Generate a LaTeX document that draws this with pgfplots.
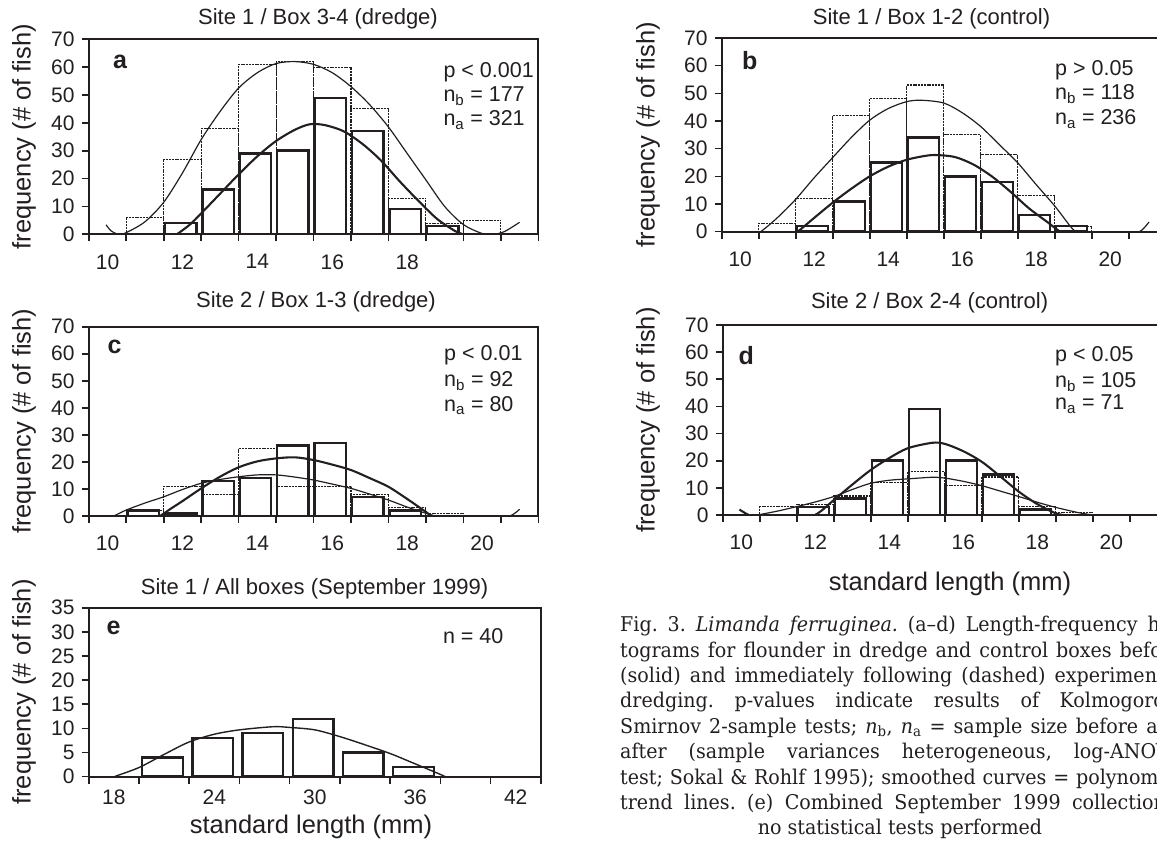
\documentclass[border=0pt]{standalone}
\usepackage{fontspec}
\setmainfont{Liberation Sans}
\newfontfamily\capfont[FakeStretch=0.94,Ligatures=TeX]{DejaVu Serif}
\usepackage{pgfplots}
\pgfplotsset{compat=1.18}

\newcommand{\fs}[1]{\fontsize{#1}{#1}\selectfont}
\definecolor{ink}{HTML}{231F20}

\pgfplotsset{
  panel/.style={
    scale only axis, anchor=south west,
    axis line style={line width=2.2pt, ink},
    ymin=0,
    tick pos=left, tick align=outside,
    major tick length=7pt, minor tick length=7pt,
    every tick/.style={line width=1.6pt, ink},
    tick label style={font=\fs{21}, text=ink},
    /pgf/number format/assume math mode=true,
    yticklabel style={anchor=east, inner sep=0pt, xshift=-7pt},
    major x tick style={draw=none},
  },
  xcat/.style={xmin=9.5, xmax=21.5, minor xtick={9.5,10.5,...,21.5},
    xticklabel style={anchor=north, inner sep=0pt, yshift=-13pt}},
  before bar/.style={ybar, bar width=0.84, bar shift=-0.05, draw=ink, line width=2.5pt, fill=none},
  after bar/.style={ybar, bar width=1, bar shift=0, draw=ink, line width=1.1pt, dash pattern=on 2pt off 0.8pt, fill=none},
  thin curve/.style={smooth, tension=0.5, line width=1.2pt, ink},
  thick curve/.style={smooth, tension=0.5, line width=2.1pt, ink},
}
\newcommand{\ttl}[3]{\node[anchor=base, inner sep=0pt, font=\fs{22}, text=ink] at (#1pt,#2pt) {#3};}
\newcommand{\ylab}[2]{\node[rotate=90, anchor=center, inner sep=0pt, font=\fs{25.5}, text=ink] at (#1pt,#2pt) {frequency (\# of fish)};}
\newcommand{\ann}[3]{\node[anchor=base west, inner sep=0pt, font=\fs{21.5}, text=ink] at (#1pt,#2pt) {#3};}
\newcommand{\plet}[3]{\node[anchor=base west, inner sep=0pt, font=\fs{25}\bfseries, text=ink] at (#1pt,#2pt) {#3};}
\newcommand{\capl}[3]{\node[anchor=base west, inner sep=0pt, font=\capfont\fs{20.3}\frenchspacing, text=ink] at (#1pt,#2pt) {\makebox[562pt][s]{#3}};}

\begin{document}
\begin{tikzpicture}
\path[use as bounding box] (0,0) rectangle (1157pt,841pt);

% ---------------- panel a ----------------
\begin{axis}[panel, xcat, at={(88.8pt,606.7pt)}, width=449.5pt, height=195pt,
  ymax=70, ytick={0,10,...,70}, xtick={10,12,14,16,18}]
\addplot[before bar] coordinates {(12,4) (13,16) (14,29) (15,30) (16,49) (17,37) (18,9) (19,3)};
\addplot[after bar] coordinates {(11,6) (12,27) (13,38) (14,61) (15,62) (16,60) (17,45) (18,13) (19,4) (20,5)};
\addplot[thin curve] coordinates {(9.96,3.4) (10.1,1.2) (10.3,0) (10.5,0.6) (11,4.5) (11.5,11.5) (12,22) (12.5,34) (13,44) (13.5,52.5) (14,58) (14.5,61.3) (15,62) (15.5,61) (16,58) (16.5,53) (17,46.5) (17.5,38.5) (18,29) (18.5,19.5) (19,10) (19.5,3.5) (20,0.3) (20.3,0) (20.6,1) (21,4.3)};
\addplot[thick curve] coordinates {(11.6,-2) (11.85,0) (12.2,3.5) (12.5,7.5) (13,14.5) (13.5,21.5) (14,28) (14.5,33.5) (15,37.5) (15.4,39.5) (15.8,39.2) (16.3,37) (16.8,32.5) (17.3,26.5) (17.8,19) (18.3,12) (18.8,5.5) (19.3,1) (19.5,0) (19.8,-2)};
\end{axis}

% ---------------- panel b ----------------
\begin{axis}[panel, xcat, at={(721.7pt,609.3pt)}, width=444pt, height=193.7pt,
  ymax=70, ytick={0,10,...,70}, xtick={10,12,...,20}]
\addplot[before bar] coordinates {(12,2) (13,11) (14,25) (15,34) (16,20) (17,18) (18,6) (19,2)};
\addplot[after bar] coordinates {(11,3) (12,12) (13,42) (14,48) (15,53) (16,35) (17,28) (18,13) (19,2)};
\addplot[thin curve] coordinates {(10.3,-1) (10.55,0) (11,5) (11.5,11.7) (12,19.5) (12.5,26.8) (13,34) (13.5,40.3) (14,44.5) (14.5,47) (14.9,47.5) (15.5,46.5) (16,43) (16.5,38) (17,31.5) (17.5,24.9) (18,17) (18.5,9.3) (18.95,1.5) (19.1,0) (19.5,-2) (20.2,-2.5) (20.6,-1) (20.85,0.5) (21.05,3.5)};
\addplot[thick curve] coordinates {(11.3,-1.5) (11.55,0) (12,5) (12.5,10.5) (13,15.5) (13.5,20) (14,23.5) (14.5,26) (15,27.4) (15.3,27.7) (15.8,27) (16.3,24.3) (16.8,20) (17.3,14.5) (17.8,8.5) (18.3,3.5) (18.65,0) (19,-2)};
\end{axis}

% ---------------- panel c ----------------
\begin{axis}[panel, xcat, at={(88.8pt,325pt)}, width=449.5pt, height=189.3pt,
  ymax=70, ytick={0,10,...,70}, xtick={10,12,...,20}]
\addplot[before bar] coordinates {(11,2) (12,1) (13,13) (14,14) (15,26) (16,27) (17,7) (18,2)};
\addplot[after bar] coordinates {(11,2) (12,11) (13,8) (14,25) (15,11) (16,11) (17,8) (18,3) (19,1)};
\addplot[thick curve] coordinates {(11.1,-2) (11.4,0) (11.7,2.8) (12,5.5) (12.5,10.2) (13,14.5) (13.5,18) (14,20.2) (14.5,21.3) (15,21.7) (15.5,20.7) (16,19) (16.5,17) (17,14) (17.5,10.8) (18,6.3) (18.5,1.5) (18.65,0) (19,-3)};
\addplot[thin curve] coordinates {(9.9,-1) (10.16,0) (10.5,2.2) (11,4.8) (11.5,7.1) (12,9.8) (12.5,12.1) (13,13.5) (13.5,14.5) (14,15.2) (14.5,15.2) (15,14.4) (15.5,13.3) (16,11.8) (16.5,10.2) (17,8.1) (17.5,5.9) (18,3.3) (18.5,1) (18.75,0) (19.2,-1.5) (20.2,-2) (20.75,0) (21,2.5)};
\end{axis}

% ---------------- panel d ----------------
\begin{axis}[panel, xcat, at={(722.8pt,326pt)}, width=444pt, height=190pt,
  ymax=70, ytick={0,10,...,70}, xtick={10,12,...,20}]
\addplot[before bar] coordinates {(12,3) (13,6) (14,20) (15,39) (16,20) (17,15) (18,2)};
\addplot[after bar] coordinates {(11,3) (12,4) (13,7) (14,12) (15,16) (16,11) (17,14) (18,3) (19,1)};
\addplot[thick curve] coordinates {(9.95,2) (10.2,0) (10.6,-2) (11.3,-2.5) (11.99,0) (12.5,5.5) (13,11.2) (13.5,16.6) (14,21) (14.5,24.6) (15.16,26.6) (15.5,26.2) (16,23.5) (16.5,19.6) (17,14.2) (17.5,8.6) (18,4) (18.5,0.6) (18.7,0) (19,-1.5)};
\addplot[thin curve] coordinates {(10.2,-0.5) (10.51,0.2) (11,1.5) (11.5,3.1) (12,4.8) (12.5,6.8) (13,9.4) (13.5,11.7) (14,12.8) (14.5,13.3) (15.16,13.9) (15.5,13.6) (16,12.4) (16.5,10.8) (17,8.8) (17.5,6.8) (18,4.7) (18.5,2.8) (19.1,0.9) (19.5,0) (19.8,-0.5)};
\end{axis}

% ---------------- panel e ----------------
\begin{axis}[panel, at={(88.8pt,64.3pt)}, width=452pt, height=169pt,
  xmin=16.5, xmax=43.5, minor xtick={16.5,19.5,...,43.5}, xtick={18,24,...,42},
  ymax=35, ytick={0,5,...,35},
  xticklabel style={anchor=north, inner sep=0pt, yshift=-6pt}]
\addplot[ybar, bar width=2.43, bar shift=-0.1, draw=ink, line width=2.5pt, fill=none] coordinates {(21,4) (24,8) (27,9) (30,12) (33,5) (36,2)};
\addplot[smooth, tension=0.5, line width=1.4pt, ink] coordinates {(17.5,-1) (18.03,0) (19.5,1.9) (21.1,4.8) (22.5,7.2) (24,8.8) (25.5,9.7) (27.5,10.35) (28.5,10.2) (30,9.7) (31.5,8.3) (33,6.6) (34.5,4.8) (35.9,2.8) (37.45,0.55) (37.8,0) (38.5,-1)};
\end{axis}

% ---------------- texts ----------------
\ttl{318}{816}{Site 1 / Box 3-4 (dredge)}
\ttl{931.5}{816}{Site 1 / Box 1-2 (control)}
\ttl{316}{533.7}{Site 2 / Box 1-3 (dredge)}
\ttl{929.6}{532}{Site 2 / Box 2-4 (control)}
\ttl{314.5}{246.7}{Site 1 / All boxes (September 1999)}

\ylab{24}{704.3}
\ylab{648}{706.2}
\ylab{24}{419.7}
\ylab{648}{421}
\ylab{24}{149}

\node[anchor=base, inner sep=0pt, font=\fs{25.5}, text=ink] at (950pt,250.3pt) {standard length (mm)};
\node[anchor=base, inner sep=0pt, font=\fs{25.5}, text=ink] at (311pt,8pt) {standard length (mm)};

\plet{112.8}{772.7}{a}
\plet{742}{771}{b}
\plet{107.3}{487.7}{c}
\plet{738.3}{476}{d}
\plet{106.5}{206}{e}

\ann{443.3}{763.7}{p < 0.001}
\ann{443.3}{739.3}{n\textsubscript{b} = 177}
\ann{443.3}{715}{n\textsubscript{a} = 321}
\ann{1055}{765}{p > 0.05}
\ann{1055}{741}{n\textsubscript{b} = 118}
\ann{1055}{716}{n\textsubscript{a} = 236}
\ann{444}{480.3}{p < 0.01}
\ann{444}{454.3}{n\textsubscript{b} = 92}
\ann{444}{429.3}{n\textsubscript{a} = 80}
\ann{1055}{479.3}{p < 0.05}
\ann{1055}{453.7}{n\textsubscript{b} = 105}
\ann{1055}{431}{n\textsubscript{a} = 71}
\ann{442.8}{197.7}{n = 40}

% ---------------- caption ----------------
\capl{620}{209.3}{Fig. 3. \textit{Limanda ferruginea.} (a–d) Length-frequency his-}
\capl{620}{183.9}{tograms for flounder in dredge and control boxes before}
\capl{620}{158.5}{(solid) and immediately following (dashed) experimental}
\capl{620}{133.1}{dredging. p-values indicate results of Kolmogorov-}
\capl{620}{107.7}{Smirnov 2-sample tests; \textit{n}\textsubscript{b}, \textit{n}\textsubscript{a} = sample size before and}
\capl{620}{82.3}{after (sample variances heterogeneous, log-ANOVA}
\capl{620}{56.9}{test; Sokal \& Rohlf 1995); smoothed curves = polynomial}
\capl{620}{31.5}{trend lines. (e) Combined September 1999 collections;}
\node[anchor=base, inner sep=0pt, font=\capfont\fs{20.3}, text=ink] at (900pt,6.1pt) {no statistical tests performed};
\end{tikzpicture}
\end{document}
